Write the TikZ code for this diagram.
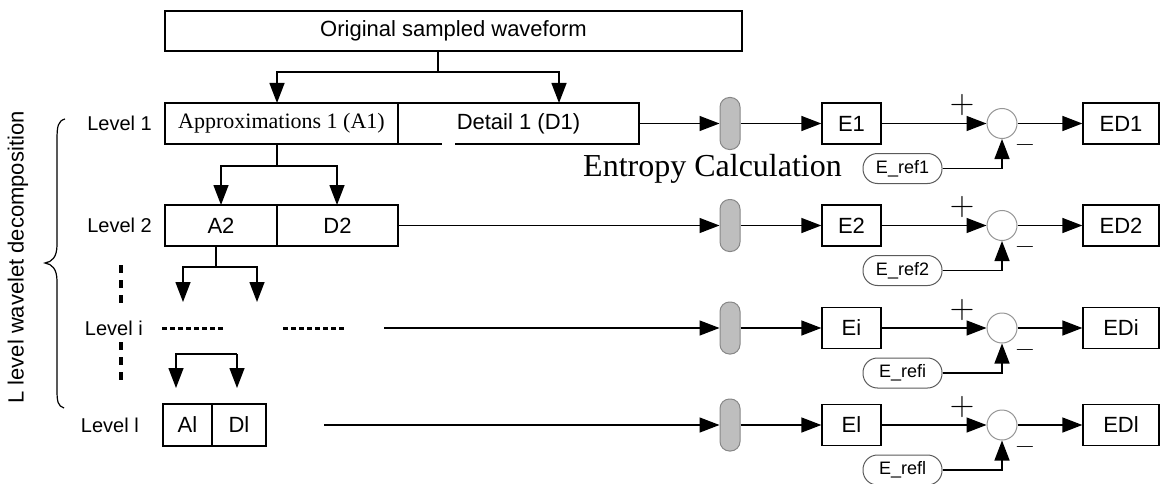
\documentclass[tikz,border=0pt]{standalone}
\usepackage{fontspec}
\setmainfont{Liberation Sans}
\newfontfamily\seriffont{Liberation Serif}
\newfontfamily\lmfont{Latin Modern Roman}
\usetikzlibrary{arrows.meta,calc}
\definecolor{ellfill}{RGB}{190,190,190}
\definecolor{ellline}{RGB}{135,135,135}
\definecolor{sumline}{RGB}{150,150,150}
\definecolor{refline}{RGB}{90,90,90}
\begin{document}
\begin{tikzpicture}[x=1pt,y=-1pt,
  line/.style={line width=1.4pt},
  arr/.style={line width=1.4pt,-{Triangle[length=20pt,width=15pt]}},
  box/.style={draw,line width=1.3pt,inner sep=0pt,font=\fontsize{22}{26}\selectfont},
  lvl/.style={anchor=east,inner sep=0pt,font=\fontsize{20}{24}\selectfont},
  ell/.style={draw=ellline,fill=ellfill,line width=1pt,rounded corners=9.5pt,minimum width=20pt,minimum height=52pt,inner sep=0pt},
  sumnode/.style={circle,draw=sumline,fill=white,line width=1pt,minimum size=30pt,inner sep=0pt},
  refnode/.style={draw=refline,line width=1pt,rounded corners=14.5pt,minimum width=79pt,minimum height=30pt,inner sep=0pt,font=\fontsize{18}{21}\selectfont},
  plussign/.style={inner sep=0pt,font=\lmfont\fontsize{34}{34}\selectfont},
  minussign/.style={inner sep=0pt,font=\lmfont\fontsize{26}{26}\selectfont}
]
\useasboundingbox (0,0) rectangle (1161,484);

% top box
\node[box,minimum width=577pt,minimum height=40pt] (orig) at (453.5,31) {Original sampled waveform};

% level 1
\node[box,minimum width=233pt,minimum height=41pt,font=\seriffont\fontsize{22}{26}\selectfont] (A1) at (281.5,123.5) {Approximations 1 (A1)};
\node[box,minimum width=241pt,minimum height=41pt] (D1) at (518.5,123.5) {Detail 1 (D1)};
\fill[white] (442,142.5) rectangle (455,145.6);

% level 2
\node[box,minimum width=112pt,minimum height=41pt] (A2) at (221,225.5) {A2};
\node[box,minimum width=121pt,minimum height=41pt] (D2) at (337.5,225.5) {D2};

% level l
\node[box,minimum width=49pt,minimum height=42pt] (Al) at (187.5,425) {Al};
\node[box,minimum width=54pt,minimum height=42pt] (Dl) at (239,425) {Dl};

% level labels
\node[lvl] (lv1) at (152,123.5) {Level 1};
\node[lvl] (lv2) at (152,225.5) {Level 2};
\node[lvl] (lvi) at (143,328) {Level i};
\node[lvl] (lvl) at (139,425) {Level l};

% tree connectors
\coordinate (s1) at (438,72);
\coordinate (t1a) at (277,103);
\coordinate (t1b) at (559,103);
\draw[line] (orig.south -| s1) -- (s1);
\draw[arr] (s1) -| (t1a);
\draw[arr] (s1) -| (t1b);

\coordinate (s2) at (277,166);
\coordinate (t2a) at (221,205);
\coordinate (t2b) at (337,205);
\draw[line] (A1.south -| s2) -- (s2);
\draw[arr] (s2) -| (t2a);
\draw[arr] (s2) -| (t2b);

\coordinate (s3) at (216,267);
\coordinate (t3a) at (183,302);
\coordinate (t3b) at (257,302);
\draw[line] (A2.south -| s3) -- (s3);
\draw[arr] (s3) -| (t3a);
\draw[arr] (s3) -| (t3b);

\coordinate (h4a) at (176,354);
\coordinate (h4b) at (237,354);
\coordinate (t4a) at (176,388);
\coordinate (t4b) at (237,388);
\draw[arr] (h4b) -- (h4a) -- (t4a);
\draw[arr] (h4b) -- (t4b);

% dots
\coordinate (v1a) at (121,265); \coordinate (v1b) at (121,303);
\coordinate (v2a) at (121,342); \coordinate (v2b) at (121,380);
\draw[line width=4pt,dash pattern=on 8pt off 7pt] (v1a) -- (v1b);
\draw[line width=4pt,dash pattern=on 8pt off 7pt] (v2a) -- (v2b);
\coordinate (d1a) at (162,328); \coordinate (d1b) at (224,328);
\coordinate (d2a) at (283,328); \coordinate (d2b) at (345,328);
\draw[line width=3pt,dash pattern=on 5pt off 3pt] (d1a) -- (d1b);
\draw[line width=3pt,dash pattern=on 5pt off 3pt] (d2a) -- (d2b);

% brace and side label
\draw[line width=1.2pt] (65,119) .. controls (58,121) and (57,126) .. (57,140) -- (57,245) .. controls (57,257) and (52,262) .. (45,263) .. controls (52,264) and (57,269) .. (57,281) -- (57,390) .. controls (57,402) and (58,406) .. (64,408);
\node[rotate=90,inner sep=0pt,font=\fontsize{22}{26}\selectfont] (side) at (18,257.5) {L level wavelet decomposition};

% sources of rows i and l
\coordinate (srci) at (384,328);
\coordinate (srcl) at (324,425);

% entropy rows
\foreach \y/\k/\s in {123.5/1/D1, 225.5/2/D2, 328/i/srci, 425/l/srcl}{
  \node[ell] (el\k) at (730,\y) {};
  \node[box,minimum width=59pt,minimum height=41pt] (e\k) at (851.5,\y) {E\k};
  \node[sumnode] (c\k) at (1002,\y) {};
  \node[box,minimum width=76pt,minimum height=41pt] (ed\k) at (1121,\y) {ED\k};
  \node[refnode] (r\k) at (902.5,\y+45) {E\_ref\k};
  \node[plussign] (p\k) at (962,\y-18) {+};
  \node[minussign] (m\k) at (1025,\y+25) {−};
  \draw[arr] (\s) -- (el\k);
  \draw[arr] (el\k) -- (e\k);
  \draw[arr] (e\k) -- (c\k);
  \draw[arr] (c\k) -- (ed\k);
  \draw[arr] (r\k) -| (c\k);
}

% entropy label
\node[anchor=base west,inner sep=0pt,font=\seriffont\fontsize{32}{36}\selectfont] (ent) at (583,176) {Entropy Calculation};
\end{tikzpicture}
\end{document}
